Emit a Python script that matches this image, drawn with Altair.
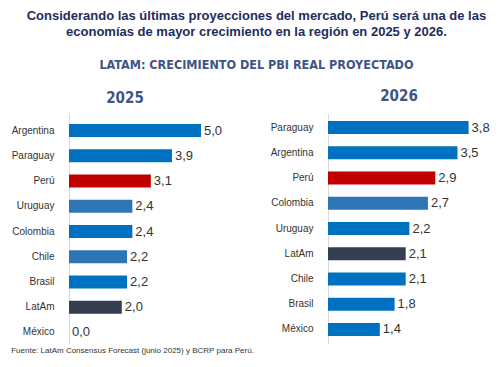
import altair as alt
import pandas as pd

# ---- data ----
countries25 = ["Argentina", "Paraguay", "Perú", "Uruguay", "Colombia", "Chile", "Brasil", "LatAm", "México"]
values25 = [5.0, 3.9, 3.1, 2.4, 2.4, 2.2, 2.2, 2.0, 0.0]
light25 = ["Uruguay", "Chile"]

countries26 = ["Paraguay", "Argentina", "Perú", "Colombia", "Uruguay", "LatAm", "Chile", "Brasil", "México"]
values26 = [3.8, 3.5, 2.9, 2.7, 2.2, 2.1, 2.1, 1.8, 1.4]
light26 = ["Colombia"]

main_title = ["Considerando las últimas proyecciones del mercado, Perú será una de las",
              "economías de mayor crecimiento en la región en 2025 y 2026."]
subtitle = "LATAM: CRECIMIENTO DEL PBI REAL PROYECTADO"
footer = "Fuente: LatAm Consensus Forecast (junio 2025) y BCRP para Perú."

NAVY = "#1F2D5C"
SLATE = "#3E5586"
NARROW = "Liberation Sans Narrow, DejaVu Sans Condensed, Arial Narrow, Liberation Sans"


def frame(countries, values, light):
    df = pd.DataFrame({"pais": countries, "valor": values})
    df["etiqueta"] = [f"{v:.1f}".replace(".", ",") for v in values]
    df["grupo"] = [
        "Perú" if c == "Perú" else "LatAm" if c == "LatAm" else "claro" if c in light else "base"
        for c in countries
    ]
    return df


color_scale = alt.Scale(domain=["base", "claro", "Perú", "LatAm"],
                        range=["#0070C0", "#2E75B6", "#C00000", "#333F50"])


def panel(df, order, year, width, dmax, shift, title_offset, title_dx):
    y_scale = alt.Scale(paddingInner=0.49, paddingOuter=0.32)
    base = alt.Chart(df).encode(
        y=alt.Y("pais:N", sort=order, scale=y_scale,
                axis=alt.Axis(title=None, ticks=False, tickSize=0, labelPadding=15,
                              labelFont="Liberation Sans", labelFontSize=10,
                              labelColor="#333333", domainColor="#D9D9D9",
                              labelOffset=shift)),
        x=alt.X("valor:Q", scale=alt.Scale(domain=[0, dmax], nice=False), axis=None),
    )
    bars = base.mark_bar(yOffset=shift).encode(
        color=alt.Color("grupo:N", scale=color_scale, legend=None))
    labels = base.mark_text(align="left", baseline="middle", dx=3, yOffset=shift,
                            font="Liberation Sans", fontSize=13, color="#333333").encode(
        text="etiqueta:N")
    return alt.layer(bars, labels).properties(
        width=width, height=231,
        title=alt.TitleParams(year, font=NARROW, fontSize=15, fontWeight="bold",
                              color=SLATE, anchor="middle", frame="group",
                              offset=title_offset, dx=title_dx))


left = panel(frame(countries25, values25, light25), countries25, "2025", 190, 190 / 26.4, 3, 7, -39)
right = panel(frame(countries26, values26, light26), countries26, "2026", 150, 150 / 37.0, 0, 9, -4)

inner = alt.hconcat(left, right, spacing=11).properties(
    title=alt.TitleParams(footer, orient="bottom", anchor="start", frame="bounds",
                          font="Liberation Sans", fontSize=8, fontWeight="normal",
                          color="#333333", offset=3))

chart = alt.vconcat(inner).properties(
    padding={"top": 2, "left": 3, "right": 0, "bottom": 0},
    title=alt.TitleParams(main_title, subtitle=subtitle, anchor="middle", dx=6,
                          font="Liberation Sans", fontSize=13, fontWeight="bold",
                          color=NAVY, lineHeight=15.5,
                          subtitleFont=NARROW, subtitleFontSize=12.5,
                          subtitleFontWeight="bold", subtitleColor=SLATE,
                          subtitlePadding=20, offset=18),
).configure_view(stroke=None)

chart.save("out.html", embed_options={"renderer": "svg", "actions": False})
